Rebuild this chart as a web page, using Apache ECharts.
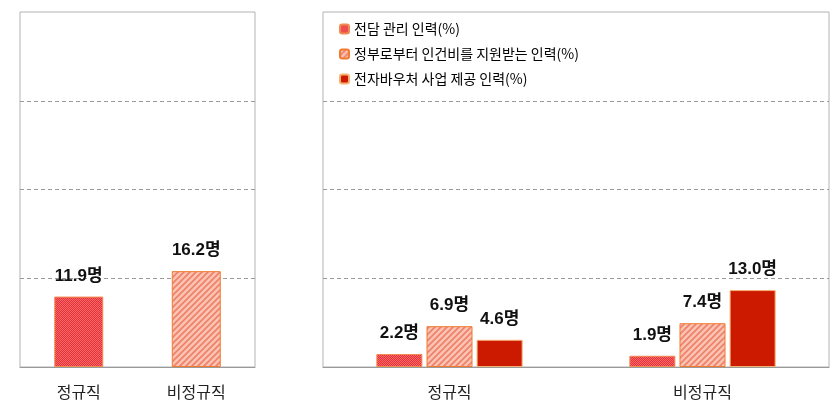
<!DOCTYPE html>
<html><head><meta charset="utf-8">
<script src="https://cdn.jsdelivr.net/npm/echarts@6/dist/echarts.min.js"></script>
<style>html,body{margin:0;padding:0;background:#fff}#c{width:830px;height:413px}</style>
</head><body><div id="c"></div>
<script>
// ---- data ----
const leftCategories = ['정규직', '비정규직'];
const leftValues = [11.9, 16.2];
const rightCategories = ['정규직', '비정규직'];
const seriesNames = ['전담 관리 인력(%)', '정부로부터 인건비를 지원받는 인력(%)', '전자바우처 사업 제공 인력(%)'];
const dedicatedStaff = [2.2, 1.9];
const subsidizedStaff = [6.9, 7.4];
const voucherStaff = [4.6, 13.0];
const yMax = 60, yInterval = 15;

// ---- patterns ----
function crossPattern() {
  const c = document.createElement('canvas'); c.width = 2; c.height = 2;
  const g = c.getContext('2d');
  g.fillStyle = '#ea2f36'; g.fillRect(0, 0, 2, 2);
  g.fillStyle = '#f46a6a'; g.fillRect(0, 0, 1, 1); g.fillRect(1, 1, 1, 1);
  return { image: c, repeat: 'repeat' };
}
function diagPattern() {
  const s = 6;
  const c = document.createElement('canvas'); c.width = s; c.height = s;
  const g = c.getContext('2d');
  g.fillStyle = '#fbc3b4'; g.fillRect(0, 0, s, s);
  g.strokeStyle = '#ef8068'; g.lineWidth = 1.6;
  g.beginPath();
  g.moveTo(0, s); g.lineTo(s, 0);
  g.moveTo(-s/2, s/2); g.lineTo(s/2, -s/2);
  g.moveTo(s/2, s + s/2); g.lineTo(s + s/2, s/2);
  g.stroke();
  return { image: c, repeat: 'repeat' };
}
const p1 = crossPattern(), p2 = diagPattern();
const solid3 = '#cc1a00';

const labelStyle = {
  show: true, position: 'top', distance: 12,
  fontFamily: '"Liberation Sans", "Noto Sans CJK KR", sans-serif',
  fontWeight: 'bold', fontSize: 17, color: '#111',
  formatter: p => p.value.toFixed(1) + '명'
};
const splitLine = { show: true, showMinLine: false, showMaxLine: false, lineStyle: { type: [4, 3], color: '#9a9a9a', width: 1 } };
const catLabel = { fontFamily: '"Noto Sans CJK KR", sans-serif', fontSize: 16, color: '#222', margin: 17 };

const chart = echarts.init(document.getElementById('c'), null, { renderer: 'canvas' });
chart.setOption({
  animation: false,
  backgroundColor: '#fff',
  legend: {
    data: seriesNames,
    orient: 'vertical', left: 334, top: 17, itemGap: 11,
    itemWidth: 9, itemHeight: 9,
    textStyle: { fontFamily: '"Noto Sans CJK KR", sans-serif', fontSize: 14, color: '#000' }
  },
  grid: [
    { left: 20, right: 575, top: 12, bottom: 46, show: true, borderColor: '#b3b3b3', borderWidth: 1 },
    { left: 323, right: 1, top: 12, bottom: 46, show: true, borderColor: '#b3b3b3', borderWidth: 1 }
  ],
  xAxis: [
    { type: 'category', gridIndex: 0, data: leftCategories, axisTick: { show: false },
      axisLine: { lineStyle: { color: '#999' } }, axisLabel: catLabel },
    { type: 'category', gridIndex: 1, data: rightCategories, axisTick: { show: false },
      axisLine: { lineStyle: { color: '#999' } }, axisLabel: catLabel }
  ],
  yAxis: [
    { type: 'value', gridIndex: 0, min: 0, max: yMax, interval: yInterval, axisLabel: { show: false },
      axisLine: { show: false }, axisTick: { show: false }, splitLine },
    { type: 'value', gridIndex: 1, min: 0, max: yMax, interval: yInterval, axisLabel: { show: false },
      axisLine: { show: false }, axisTick: { show: false }, splitLine }
  ],
  series: [
    { name: '인원', type: 'bar', xAxisIndex: 0, yAxisIndex: 0, barWidth: 49,
      data: [
        { value: leftValues[0], itemStyle: { color: p1, borderColor: '#f08a50', borderWidth: 1 } },
        { value: leftValues[1], itemStyle: { color: p2, borderColor: '#f07a30', borderWidth: 1 } }
      ],
      label: labelStyle },
    { name: seriesNames[0], type: 'bar', xAxisIndex: 1, yAxisIndex: 1, barWidth: 46, barGap: '9%',
      data: dedicatedStaff, itemStyle: { color: p1, borderColor: '#f08a50', borderWidth: 1 }, label: labelStyle },
    { name: seriesNames[1], type: 'bar', xAxisIndex: 1, yAxisIndex: 1, barWidth: 46, barGap: '9%',
      data: subsidizedStaff, itemStyle: { color: p2, borderColor: '#f07a30', borderWidth: 1 }, label: labelStyle },
    { name: seriesNames[2], type: 'bar', xAxisIndex: 1, yAxisIndex: 1, barWidth: 46, barGap: '9%',
      data: voucherStaff, itemStyle: { color: solid3, borderColor: '#f8b070', borderWidth: 1 }, label: labelStyle }
  ]
});
</script>
</body></html>
